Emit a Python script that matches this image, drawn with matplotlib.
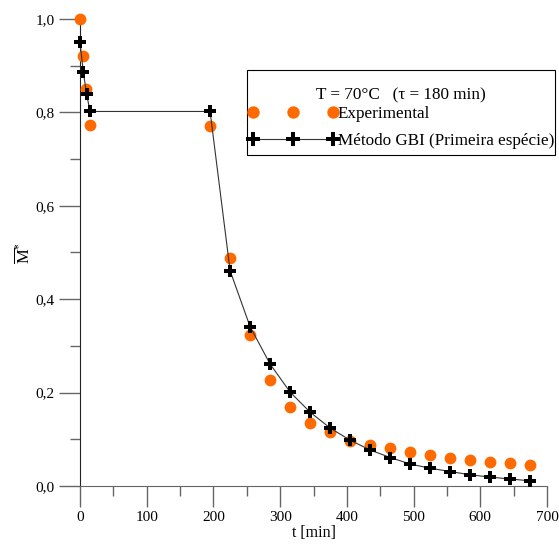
import matplotlib
matplotlib.use("Agg")
import matplotlib.pyplot as plt
from matplotlib.patches import Rectangle
from matplotlib.ticker import MultipleLocator, FuncFormatter

plt.rcParams['font.family'] = ['Liberation Serif', 'DejaVu Serif']
plt.rcParams['mathtext.fontset'] = 'custom'
plt.rcParams['mathtext.rm'] = 'Liberation Serif'
plt.rcParams['mathtext.it'] = 'Liberation Serif'

# experimental points
t_exp = [0, 4.5, 9, 15, 195, 225, 255, 285, 315, 345, 375, 405, 435,
         465, 495, 525, 555, 585, 615, 645, 675]
m_exp = [1.0, 0.921, 0.851, 0.774, 0.771, 0.489, 0.324, 0.227, 0.169, 0.135,
         0.116, 0.097, 0.088, 0.081, 0.072, 0.066, 0.061, 0.056, 0.052, 0.050, 0.046]

# GBI method (first kind)
t_gbi = [0, 5, 10, 15, 195, 225, 255, 285, 315, 345, 375, 405, 435,
         465, 495, 525, 555, 585, 615, 645, 675]
m_gbi = [0.950, 0.886, 0.839, 0.802, 0.802, 0.461, 0.341, 0.261, 0.201, 0.158,
         0.124, 0.098, 0.077, 0.061, 0.047, 0.038, 0.031, 0.024, 0.019, 0.015, 0.011]

W, H = 559, 546
fig = plt.figure(figsize=(W / 100, H / 100), dpi=100)
ax = fig.add_axes([80 / W, 60 / H, 467 / W, 467 / H])

ax.plot(t_exp, m_exp, 'o', color='#ff6a00', markersize=8.5, markeredgewidth=0,
        clip_on=False, zorder=3, label='Experimental')
ax.plot(t_gbi, m_gbi, '-', color='#333333', linewidth=0.8, marker='P',
        markerfacecolor='black', markeredgecolor='black', markersize=9,
        markeredgewidth=0, clip_on=False, zorder=4,
        label='Método GBI (Primeira espécie)')

ax.set_xlim(0, 700)
ax.set_ylim(0, 1.0)
for s in ('top', 'right'):
    ax.spines[s].set_visible(False)
ax.spines['left'].set_color('#222222')
ax.spines['bottom'].set_color('#666666')

ax.xaxis.set_major_locator(MultipleLocator(100))
ax.xaxis.set_minor_locator(MultipleLocator(50))
ax.yaxis.set_major_locator(MultipleLocator(0.2))
ax.yaxis.set_minor_locator(MultipleLocator(0.1))
ax.yaxis.set_major_formatter(FuncFormatter(lambda v, p: f'{v:.1f}'.replace('.', ',')))
ax.tick_params(which='major', length=15, width=1, color='#666666',
               labelsize=11, pad=3)
ax.tick_params(which='minor', length=7, width=1, color='#666666')

ax.set_xlabel('t [min]', fontsize=11.5, labelpad=1)
ax.set_ylabel(r'$\overline{\mathrm{M}}^{*}$', fontsize=12)
ax.yaxis.set_label_coords(-0.10, 0.5)

# legend: box and title drawn by hand, entries by ax.legend without frame
ax.add_patch(Rectangle((247 / W, 1 - 155 / H), 308 / W, 85 / H,
                       transform=fig.transFigure, facecolor='white',
                       edgecolor='black', linewidth=0.8, zorder=5,
                       clip_on=False))
ax.text(401 / W, 1 - 95 / H, 'T = 70°C   (τ = 180 min)', fontsize=12.3,
        ha='center', va='center', transform=fig.transFigure, zorder=6)
leg = ax.legend(loc='upper left', bbox_to_anchor=(248 / W, 1 - 106 / H),
                bbox_transform=fig.transFigure, numpoints=3,
                handlelength=5.27, handletextpad=0.0, fontsize=12.3,
                frameon=False, borderpad=0, labelspacing=0.67,
                borderaxespad=0, markerscale=1.05)
leg.set_zorder(7)

fig.savefig('out.png', dpi=100)
